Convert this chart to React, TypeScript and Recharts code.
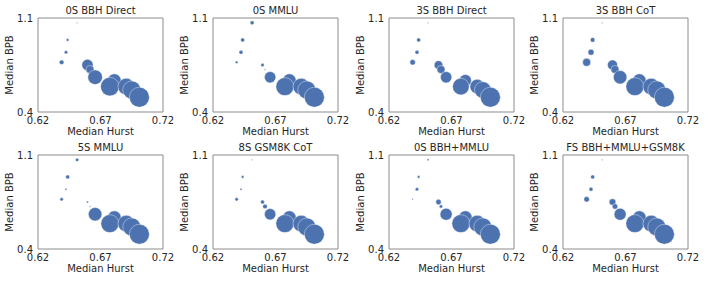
import React from 'react';
import { ScatterChart, Scatter, XAxis, YAxis, ZAxis, ReferenceArea } from 'recharts';

const titles = [
  '0S BBH Direct',
  '0S MMLU',
  '3S BBH Direct',
  '3S BBH CoT',
  '5S MMLU',
  '8S GSM8K CoT',
  '0S BBH+MMLU',
  'FS BBH+MMLU+GSM8K',
];

const hurst = [0.6513, 0.6437, 0.6424, 0.6389, 0.6596, 0.6616, 0.6657, 0.6811, 0.6775, 0.6906, 0.695, 0.7011];
const bpb = [1.064, 0.937, 0.845, 0.77, 0.75, 0.717, 0.659, 0.634, 0.589, 0.589, 0.564, 0.51];

const score0 = [0.5, 1.7, 2.9, 5.3, 32, 16, 53, 45, 86, 69, 81, 100];
const score1 = [4, 4, 4, 1.7, 2.9, 0.5, 32, 45, 81, 69, 81, 100];
const score2 = [0.5, 4, 4, 7.3, 18.5, 16, 32, 36, 69, 53, 69, 100];
const score3 = [0.4, 5.3, 9, 16, 25, 16, 45, 45, 81, 69, 81, 100];
const score4 = [2.9, 4, 1, 2.9, 1, 0.5, 45, 45, 81, 69, 81, 100];
const score5 = [0.5, 1.7, 1, 2.9, 4, 5.3, 32, 45, 81, 69, 81, 100];
const score6 = [1, 1.7, 2.9, 0.5, 7.3, 2.9, 36, 45, 81, 69, 81, 100];
const score7 = [0.5, 4, 4, 7.3, 11, 7.3, 36, 45, 81, 69, 81, 100];

const scores = [score0, score1, score2, score3, score4, score5, score6, score7];

const xTicks = [0.62, 0.67, 0.72];
const yTicks = [0.4, 1.1];

const FONT = "'DejaVu Sans', sans-serif";
const TEXT = '#262626';
const BLUE = '#4c72b0';

const colLeft = [38, 213, 389, 563];
const rowTop = [18, 155];
const PW = 125;
const PH = 94;

function Panel({ idx }: { idx: number }) {
  const col = idx % 4;
  const row = Math.floor(idx / 4);
  const pl = colLeft[col];
  const pt = rowTop[row];
  const data = hurst.map((h, i) => ({ x: h, y: bpb[i], z: scores[idx][i] }));
  const W = 176;
  const H = 141;
  return (
    <>
      <div style={{ position: 'absolute', left: pl - 38, top: pt - 18 }}>
        <ScatterChart
          width={W}
          height={H}
          margin={{ top: 18, right: W - 38 - PW, bottom: H - 18 - PH - 24, left: 0 }}
        >
          <XAxis
            type="number"
            dataKey="x"
            domain={[0.62, 0.72]}
            ticks={xTicks}
            interval={0}
            allowDataOverflow
            tickFormatter={(v: number) => v.toFixed(2)}
            axisLine={false}
            tickLine={false}
            tickSize={3}
            tickMargin={2}
            height={24}
            tick={{ fill: TEXT, fontSize: 10, fontFamily: FONT }}
          />
          <YAxis
            type="number"
            dataKey="y"
            domain={[0.4, 1.1]}
            ticks={yTicks}
            interval={0}
            allowDataOverflow
            tickFormatter={(v: number) => v.toFixed(1)}
            axisLine={false}
            tickLine={false}
            tickSize={3}
            tickMargin={2}
            width={38}
            tick={{ fill: TEXT, fontSize: 10, fontFamily: FONT }}
          />
          <ZAxis type="number" dataKey="z" domain={[0, 100]} range={[0, 314]} />
          <ReferenceArea
            x1={0.62}
            x2={0.72}
            y1={0.4}
            y2={1.1}
            fill="none"
            stroke="#8c8c8c"
            strokeWidth={1}
            ifOverflow="visible"
          />
          <Scatter
            data={data}
            fill={BLUE}
            stroke="#ffffff"
            strokeWidth={0.5}
            strokeOpacity={0.8}
            isAnimationActive={false}
          />
        </ScatterChart>
      </div>
      <div
        style={{
          position: 'absolute',
          left: pl - 20,
          width: PW + 40,
          top: pt - 13,
          lineHeight: '12px',
          fontSize: 10,
          fontFamily: FONT,
          color: TEXT,
          textAlign: 'center',
          whiteSpace: 'nowrap',
        }}
      >
        {titles[idx]}
      </div>
      <div
        style={{
          position: 'absolute',
          left: pl,
          width: PW,
          top: pt + PH + 14,
          lineHeight: '12px',
          fontSize: 10,
          fontFamily: FONT,
          color: TEXT,
          textAlign: 'center',
          whiteSpace: 'nowrap',
        }}
      >
        Median Hurst
      </div>
      <div
        style={{
          position: 'absolute',
          left: pl - 28 - 50,
          width: 100,
          top: pt + PH / 2 - 6,
          lineHeight: '12px',
          fontSize: 10,
          fontFamily: FONT,
          color: TEXT,
          textAlign: 'center',
          whiteSpace: 'nowrap',
          transform: 'rotate(-90deg)',
        }}
      >
        Median BPB
      </div>
    </>
  );
}

export default function App() {
  return (
    <div
      style={{
        position: 'absolute',
        left: 0,
        top: 0,
        width: 706,
        height: 283,
        background: '#ffffff',
        overflow: 'hidden',
      }}
    >
      {titles.map((_, i) => (
        <Panel key={i} idx={i} />
      ))}
    </div>
  );
}
